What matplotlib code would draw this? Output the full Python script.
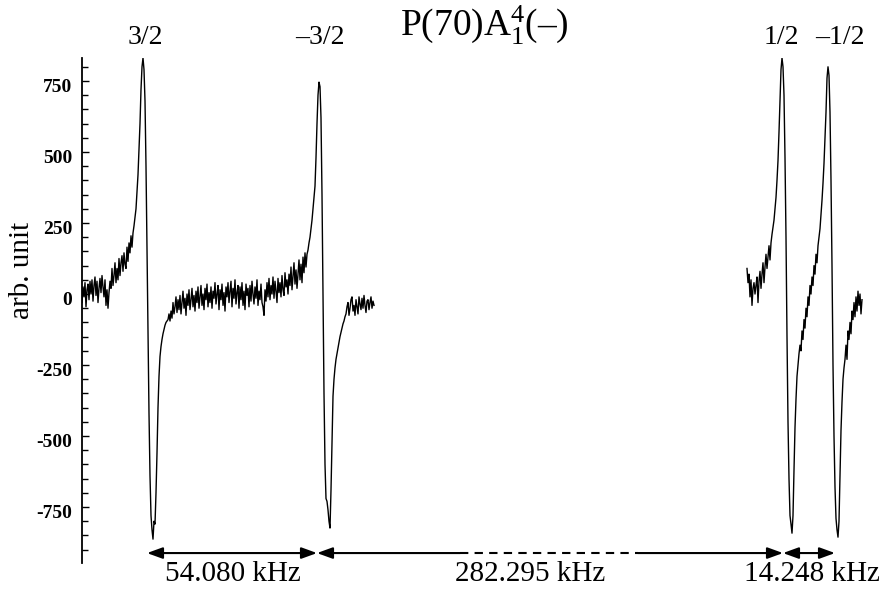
import numpy as np
import matplotlib
matplotlib.use("Agg")
import matplotlib.pyplot as plt
import matplotlib.transforms as mtransforms
from matplotlib.ticker import MultipleLocator

plt.rcParams['font.family'] = ['Liberation Serif', 'DejaVu Serif']
plt.rcParams['mathtext.fontset'] = 'custom'
plt.rcParams['mathtext.rm'] = 'Liberation Serif'
plt.rcParams['mathtext.it'] = 'Liberation Serif:italic'
plt.rcParams['axes.unicode_minus'] = False

# signal (arb. unit) sampled once per channel, read off the picture
# first sweep, channels 82..374: 3/2 and -3/2 lines
sweep1_start = 82
sweep1_y = (
    # baseline before 3/2 (82..134)
    [-30, 25, -10, 40, -45, 15, 35, -20, 45, 0,
     50, -25, 30, 60, -5, 45, -30, 20, 55, 5,
     65, 25, -10, 50, -40, 15, -50, 5, 45, 20,
     90, 30, 65, 110, 40, 90, 50, 125, 65, 110,
     135, 80, 145, 105, 90, 165, 115, 180, 145, 205,
     165, 215, 240]
    # 3/2 line (135..169)
    + [270, 300, 360, 420, 510, 600, 720, 800, 831, 790, 680, 450, 150, -150, -420, -640, -780, -830,
       -863, -800, -810, -700, -560, -400, -290, -220, -185, -160, -140, -125, -110, -100, -95, -90, -70]
    # baseline between lines (170..306)
    + [-95, -60, -85, -30, -70, -45, -10, -65, -20, -55,
       -5, -70, -30, 10, -50, -15, -75, 0, -40, 15,
       -55, -20, 20, -45, -5, -60, 10, -30, 25, -50,
       -10, 30, -40, 0, -55, 20, -20, 35, -45, 5,
       -30, 25, -50, 10, -15, 40, -35, 0, 30, -55,
       15, -20, 35, -40, 5, -60, 25, -10, 40, -30,
       10, 45, -45, 20, -15, 50, -35, 5, 30, -50,
       25, -20, 40, -40, 10, -55, 35, -5, 20, -45,
       30, -25, 45, 0, -35, 25, -15, 50, -40, 10,
       -20, 35, -30, -45, -75, 15, -25, 40, -10, 55,
       -20, 30, 0, 60, -15, 45, 10, -30, 55, 5,
       40, -10, 65, 15, -5, 75, 25, 50, 0, 70,
       30, 95, 15, 60, 110, 35, 85, 20, 70, 120,
       50, 105, 40, 130, 75, 145, 95]
    # -3/2 line (307..345)
    + [140, 155, 180, 200, 230, 260, 300, 340, 380, 480, 600, 700, 746, 730, 620, 350, 0, -350, -600, -720,
       -730, -760, -800, -824, -690, -520, -360, -300, -260, -230, -210, -190, -170, -150, -135, -120,
       -105, -95, -80]
    # tail (346..374)
    + [-70, -45, -30, -75, -50, -20, -10, -60, -40, -75, -20, -45, -70, -10, -35, -55, -15, -50, -5,
       -40, -65, -25, -20, -55, -30, -10, -50, -25, -40]
)

# second sweep, channels 747..862: 1/2 and -1/2 lines
sweep2_start = 747
sweep2_y = (
    [90, 40, 70, -10, 50, -40, 20, 40, 0, 30, 60, -30, 45, 80, 20, 70, 110, 40, 95, 140,
     90, 130, 170, 120, 180, 210]
    # 1/2 line (773..799)
    + [235, 260, 300, 340, 400, 470, 570, 680, 790, 831, 800, 700, 480, 200, -150, -450, -650, -780,
       -810, -842, -780, -620, -470, -370, -290, -250, -210]
    # between 1/2 and -1/2 (800..819)
    + [-180, -200, -130, -160, -90, -120, -50, -80, -10, -40, 30, 0, 60, 30, 100, 70, 140, 110, 170, 200]
    # -1/2 line (820..849)
    + [230, 280, 330, 390, 460, 550, 640, 760, 800, 770, 640, 400, 100, -250, -500, -680, -790, -830,
       -856, -800, -640, -480, -380, -300, -260, -230, -180, -230, -130, -160]
    # tail (850..862)
    + [-100, -140, -60, -90, -30, -80, -10, -60, 10, -40, 0, -70, -20]
)

peak_labels = ['3/2', '\u20133/2', '1/2', '\u20131/2']
peak_label_x = [145, 320, 781, 840]

interval_edges = [147, 317, 783, 835]
interval_labels = ['54.080 kHz', '282.295 kHz', '14.248 kHz']
interval_label_x = [233, 530, 812]
gap_dashed = [460, 638]

sweep1_x = np.arange(sweep1_start, sweep1_start + len(sweep1_y))
sweep2_x = np.arange(sweep2_start, sweep2_start + len(sweep2_y))

fig = plt.figure(figsize=(8.86, 5.93), dpi=100)
ax = fig.add_axes([82 / 886, 30 / 593, 804 / 886, 505 / 593])

ax.plot(sweep1_x, sweep1_y, color='black', lw=1.0)
ax.plot(sweep2_x, sweep2_y, color='black', lw=1.0)

ax.set_xlim(82, 886)
ax.set_ylim(-947, 831)

for s in ['top', 'right', 'bottom']:
    ax.spines[s].set_visible(False)
ax.spines['left'].set_linewidth(1.3)
ax.set_xticks([])
ax.yaxis.set_major_locator(MultipleLocator(250))
ax.yaxis.set_minor_locator(MultipleLocator(50))
ax.tick_params(axis='y', which='both', direction='in', width=1.0, pad=7)
ax.tick_params(axis='y', which='major', length=5, labelsize=14)
ax.tick_params(axis='y', which='minor', length=4)
offset = mtransforms.ScaledTranslation(0, -0.04, fig.dpi_scale_trans)
for lab in ax.get_yticklabels():
    lab.set_fontweight('bold')
    lab.set_transform(lab.get_transform() + offset)

fig.text(22 / 886, 1 - 270 / 593, 'arb. unit', rotation=90, fontsize=21,
         ha='center', va='center')

fig.text(484 / 886, 1 - 25 / 593, 'P(70)A$_1^4$(\u2013)', fontsize=27,
         ha='center', va='center')

# labels above / below the axes: x in data, y in figure fraction
blend = mtransforms.blended_transform_factory(ax.transData, fig.transFigure)
for lab, x in zip(peak_labels, peak_label_x):
    ax.text(x, 1 - 37 / 593, lab, transform=blend, fontsize=20, ha='center', va='center')

y_arrow = -912
head = dict(color='black', lw=1.5, shrinkA=0, shrinkB=0)
both = '<|-|>,head_length=0.55,head_width=0.2'
one = '-|>,head_length=0.55,head_width=0.2'
ax.annotate('', xy=(interval_edges[1], y_arrow), xytext=(interval_edges[0], y_arrow),
            arrowprops=dict(arrowstyle=both, mutation_scale=17, **head), annotation_clip=False)
ax.annotate('', xy=(interval_edges[1], y_arrow), xytext=(gap_dashed[0], y_arrow),
            arrowprops=dict(arrowstyle=one, mutation_scale=17, **head), annotation_clip=False)
ax.plot(gap_dashed, [y_arrow, y_arrow], color='black', lw=1.5, ls=(0, (4, 3)), clip_on=False)
ax.annotate('', xy=(interval_edges[2], y_arrow), xytext=(gap_dashed[1], y_arrow),
            arrowprops=dict(arrowstyle=one, mutation_scale=17, **head), annotation_clip=False)
ax.annotate('', xy=(interval_edges[3], y_arrow), xytext=(interval_edges[2], y_arrow),
            arrowprops=dict(arrowstyle=both, mutation_scale=17, **head), annotation_clip=False)

for lab, x in zip(interval_labels, interval_label_x):
    ax.text(x, 1 - 574 / 593, lab, fontsize=21, ha='center', va='center', transform=blend)

fig.savefig('out.png', dpi=100)
